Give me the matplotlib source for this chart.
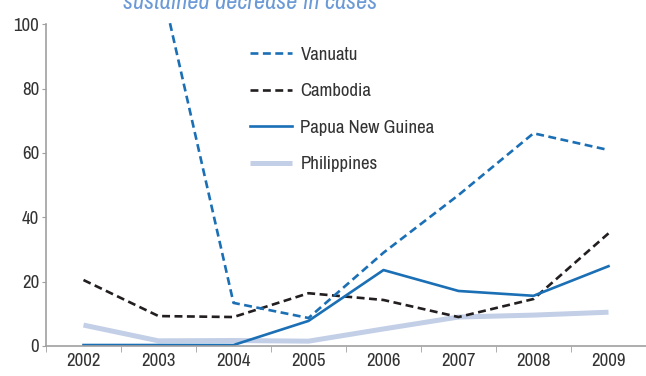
import matplotlib
matplotlib.use('Agg')
import matplotlib.pyplot as plt
import numpy as np

plt.rcParams['font.family'] = ['Archivo Narrow', 'DejaVu Sans']

# data
years = ['2002', '2003', '2004', '2005', '2006', '2007', '2008', '2009']
vanuatu = [np.nan, 116, 13.4, 8.7, 29, 46.9, 66.1, 60.9]
cambodia = [20.5, 9.3, 9.0, 16.4, 14.3, 9.0, 14.6, 35]
png = [0.3, 0.3, 0.3, 7.8, 23.6, 17.1, 15.6, 24.8]
philippines = [6.5, 1.6, 1.7, 1.5, 5.3, 9.0, 9.6, 10.5]

blue = '#1b6fb5'
dark = '#231f20'
pale = '#c3cfe6'
grey = '#a0a0a0'

fig = plt.figure(figsize=(6.46, 3.76), dpi=100)
ax = fig.add_axes([46 / 646, 1 - 346 / 376, 1 - 46 / 646, (346 - 20) / 376])

x = np.arange(len(years))
ax.plot(x, philippines, color=pale, lw=3.6, label='Philippines', solid_capstyle='butt')
ax.plot(x, cambodia, color=dark, lw=1.9, dashes=(3.0, 1.7), label='Cambodia')
ax.plot(x, png, color=blue, lw=1.9, label='Papua New Guinea')
ax.plot(x, vanuatu, color=blue, lw=1.9, dashes=(3.0, 1.7), label='Vanuatu')

ax.set_xlim(-0.5, len(years) - 0.5)
ax.set_ylim(0, 101.3)
ax.set_yticks([0, 20, 40, 60, 80, 100])
ax.set_xticks(x)
ax.set_xticklabels(years)
ax.set_xticks(np.arange(-0.5, len(years), 1), minor=True)

for s in ['top', 'right']:
    ax.spines[s].set_visible(False)
ax.spines['left'].set_bounds(0, 100)
ax.spines['left'].set_color(grey)
ax.spines['bottom'].set_color(grey)
ax.spines['left'].set_linewidth(1.2)
ax.spines['bottom'].set_linewidth(1.2)

ax.tick_params(axis='y', length=3, color=grey, labelsize=13.5, labelcolor='#333333', pad=2)
ax.tick_params(axis='x', which='major', length=0, labelsize=13.5, labelcolor='#333333', pad=5)
ax.tick_params(axis='x', which='minor', length=4, color=grey)

# legend in the order of the reference
h, l = ax.get_legend_handles_labels()
order = [3, 1, 2, 0]
ax.legend([h[i] for i in order], [l[i] for i in order],
          loc='upper left', bbox_to_anchor=(241 / 646, 1 - 37 / 376),
          bbox_transform=fig.transFigure, frameon=False, fontsize=13.5,
          handlelength=2.24, handletextpad=0.43, labelspacing=1.09,
          borderpad=0, labelcolor='#333333')

fig.text(250 / 646, 1 - 9 / 376, 'sustained decrease in cases', ha='center',
         va='baseline', fontsize=17.5, style='italic', color='#6b9ad6')

fig.savefig('out.png', dpi=100)
